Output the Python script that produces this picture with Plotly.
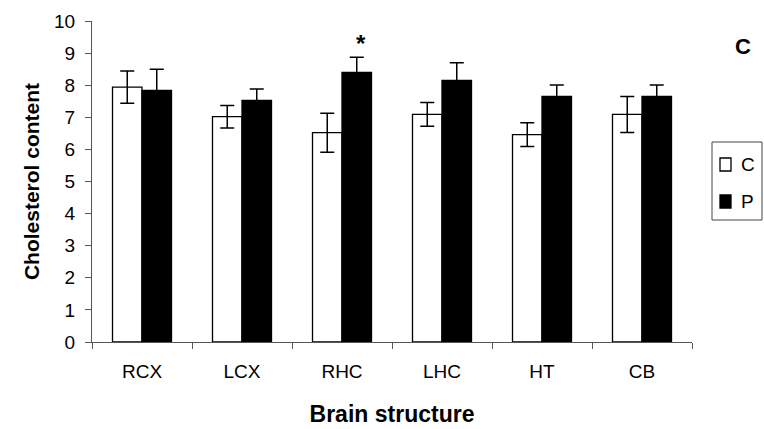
import plotly.graph_objects as go

categories = ["RCX", "LCX", "RHC", "LHC", "HT", "CB"]
control_vals = [7.94, 7.02, 6.52, 7.09, 6.46, 7.09]
control_err = [0.50, 0.35, 0.61, 0.37, 0.37, 0.56]
p_vals = [7.84, 7.53, 8.40, 8.15, 7.65, 7.65]
p_err = [0.66, 0.35, 0.47, 0.55, 0.36, 0.36]
series_names = ["C", "P"]
series_colors = ["white", "black"]
y_ticks = list(range(0, 11))

W, H = 764, 429
L, R, T, B = 92, 72, 21, 87
PW, PH = W - L - R, H - T - B


def px_to_paper(sx, sy):
    return (sx - L) / PW, (H - B - sy) / PH


fig = go.Figure()
for name, color, vals, errs in zip(series_names, series_colors,
                                   [control_vals, p_vals], [control_err, p_err]):
    fig.add_trace(go.Bar(
        x=categories, y=vals, name=name,
        marker=dict(color=color, line=dict(color="black", width=1.3)),
        error_y=dict(type="data", array=errs, color="black", thickness=1.5, width=7),
    ))

# significance marker above RHC (P)
fig.add_annotation(x="RHC", y=p_vals[2] + p_err[2], yshift=-2, xshift=19, text="<b>*</b>",
                   showarrow=False, yanchor="bottom", font=dict(size=24, color="black"))

# compact legend box as in the reference
x0, y0 = px_to_paper(712, 142)
x1, y1 = px_to_paper(762, 220)
fig.add_shape(type="rect", xref="paper", yref="paper", x0=x0, y0=y0, x1=x1, y1=y1,
              line=dict(color="#444", width=1), fillcolor="white", layer="above")
for i, (name, color) in enumerate(zip(series_names, series_colors)):
    top = 158 + 37 * i
    sx0, sy0 = px_to_paper(720, top)
    sx1, sy1 = px_to_paper(731, top + 13)
    fig.add_shape(type="rect", xref="paper", yref="paper", x0=sx0, y0=sy0, x1=sx1, y1=sy1,
                  line=dict(color="black", width=1.3), fillcolor=color, layer="above")
    tx, ty = px_to_paper(739, top + 6)
    fig.add_annotation(x=tx, y=ty, xref="paper", yref="paper", text=name, showarrow=False,
                       xanchor="left", yanchor="middle", font=dict(size=19, color="black"))

fig.update_layout(
    width=W, height=H,
    margin=dict(l=L, r=R, t=T, b=B, autoexpand=False),
    plot_bgcolor="white", paper_bgcolor="white",
    barmode="group", bargap=0.41, bargroupgap=0,
    font=dict(family="Arial, Liberation Sans, sans-serif", size=19, color="black"),
    title=dict(text="<b>C</b>", font=dict(size=22, color="black"),
               xref="container", yref="container",
               x=743 / W, y=1 - 46 / H, xanchor="center", yanchor="middle"),
    showlegend=False,
    xaxis=dict(
        automargin=False,
        showline=True, linecolor="#555", linewidth=1.3,
        ticks="outside", ticklen=6, tickcolor="#555", tickson="boundaries",
        ticklabelstandoff=12,
        title=dict(text="<b>Brain structure</b>", font=dict(size=23), standoff=24),
    ),
    yaxis=dict(
        automargin=False,
        range=[0, 10], tickvals=y_ticks, showgrid=False, zeroline=False,
        showline=True, linecolor="#555", linewidth=1.3,
        ticks="outside", ticklen=6, tickcolor="#555", ticklabelstandoff=6,
        title=dict(text="<b>Cholesterol content</b>", font=dict(size=21), standoff=8),
    ),
)

fig.write_html(
    "out.html",
    config={"displayModeBar": False},
    post_script=(
        "document.body.style.margin='0';"
        "document.body.style.overflow='hidden';"
        "document.documentElement.style.overflow='hidden';"
    ),
)
